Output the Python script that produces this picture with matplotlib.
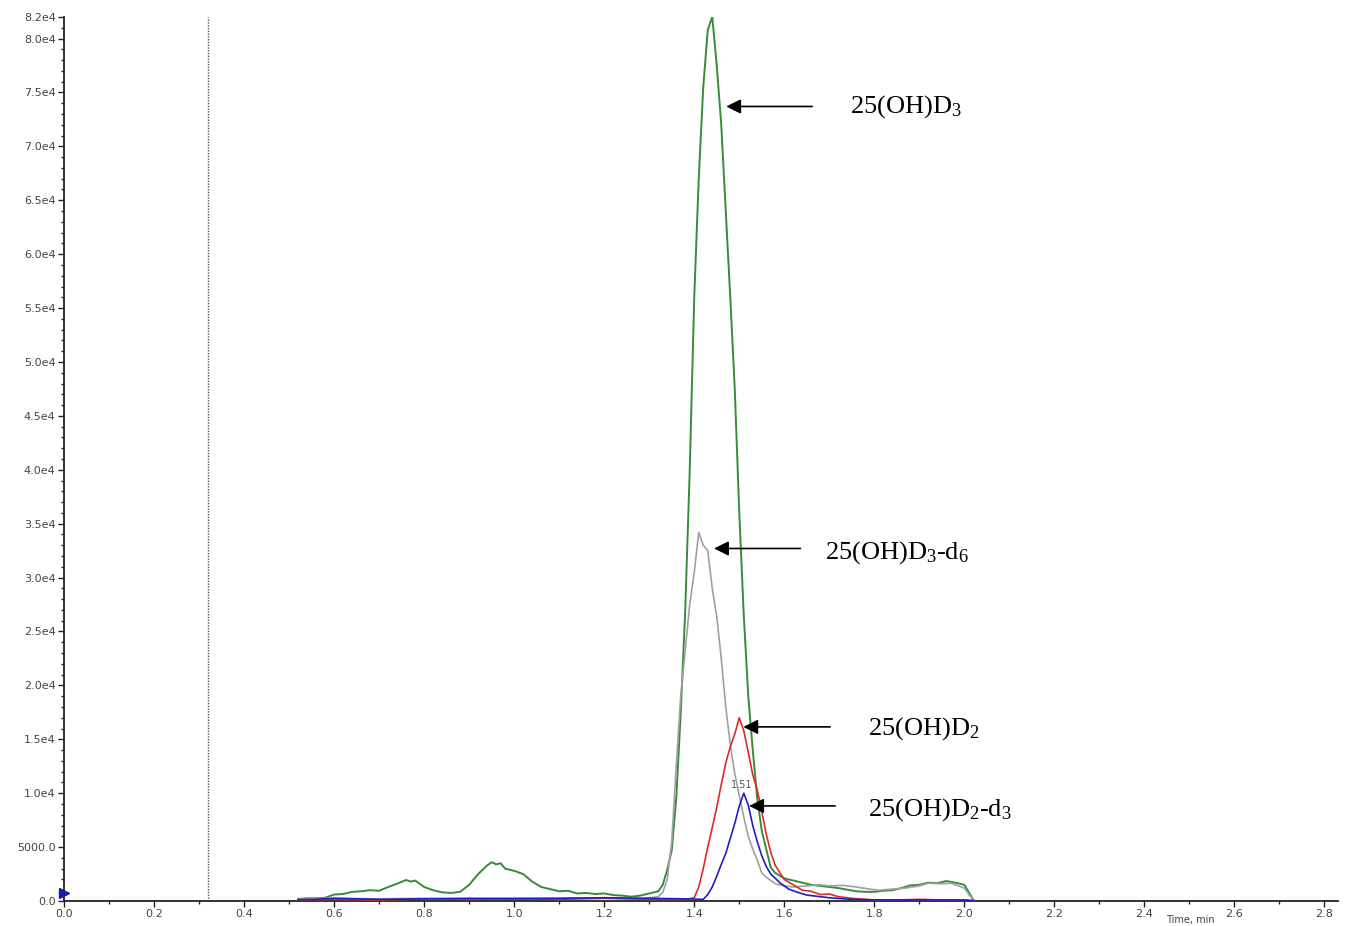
import matplotlib
matplotlib.use("Agg")
import matplotlib.pyplot as plt
from matplotlib.ticker import MultipleLocator, FixedLocator

plt.rcParams['mathtext.fontset'] = 'custom'
plt.rcParams['mathtext.rm'] = 'Liberation Serif'
plt.rcParams['mathtext.it'] = 'Liberation Serif:italic'
plt.rcParams['mathtext.default'] = 'regular'

# ---- data (time in min, intensity in cps) ----
green_t = [0.52, 0.54, 0.56, 0.58, 0.60, 0.62, 0.64, 0.66, 0.68, 0.70, 0.72, 0.74, 0.76, 0.77, 0.78,
           0.80, 0.82, 0.84, 0.86, 0.88, 0.90, 0.92, 0.94, 0.95, 0.96, 0.97, 0.98, 1.00, 1.02, 1.04,
           1.06, 1.08, 1.10, 1.12, 1.14, 1.16, 1.18, 1.20, 1.22, 1.24, 1.26, 1.28, 1.30, 1.32, 1.33,
           1.34, 1.35, 1.36, 1.37, 1.38, 1.39, 1.40, 1.41, 1.42, 1.43, 1.44, 1.45, 1.46, 1.47, 1.48,
           1.49, 1.50, 1.51, 1.52, 1.53, 1.54, 1.55, 1.56, 1.57, 1.58, 1.60, 1.62, 1.64, 1.66, 1.68,
           1.70, 1.72, 1.74, 1.76, 1.78, 1.80, 1.82, 1.84, 1.86, 1.88, 1.90, 1.92, 1.94, 1.96, 1.98,
           2.00, 2.01, 2.02]
green_y = [200, 250, 250, 300, 600, 650, 850, 900, 1000, 950, 1300, 1600, 1950, 1800, 1900,
           1300, 1000, 800, 750, 850, 1500, 2500, 3300, 3600, 3400, 3500, 3000, 2800, 2500, 1800,
           1300, 1100, 900, 950, 700, 750, 650, 700, 550, 500, 400, 500, 700, 900, 1500,
           2900, 4700, 9500, 17500, 27000, 40000, 56000, 67000, 75500, 80800, 82000, 77500, 72000, 64000, 56000,
           47500, 36000, 26500, 19000, 14000, 9500, 6500, 4800, 3100, 2600, 2100, 1900, 1700, 1500, 1400,
           1300, 1200, 1050, 900, 850, 850, 950, 1000, 1200, 1450, 1500, 1700, 1650, 1850, 1700,
           1500, 800, 100]

gray_t = [0.52, 0.60, 0.70, 0.80, 0.90, 1.00, 1.10, 1.20, 1.28, 1.32, 1.33, 1.34, 1.35, 1.36, 1.37,
          1.38, 1.39, 1.40, 1.41, 1.42, 1.43, 1.44, 1.45, 1.46, 1.47, 1.48, 1.49, 1.50, 1.51, 1.52,
          1.53, 1.54, 1.55, 1.56, 1.58, 1.60, 1.62, 1.65, 1.68, 1.70, 1.73, 1.76, 1.79, 1.81, 1.84,
          1.87, 1.90, 1.92, 1.95, 1.97, 2.00, 2.01, 2.02]
gray_y = [150, 250, 200, 250, 200, 300, 250, 300, 200, 400, 800, 2000, 5500, 12500, 19000,
          23300, 27500, 30500, 34200, 33000, 32500, 29000, 26400, 22500, 18000, 14500, 11800, 9800, 7800, 6000,
          4800, 3800, 2600, 2200, 1600, 1400, 1300, 1400, 1500, 1400, 1450, 1300, 1100, 1000, 1100,
          1200, 1400, 1650, 1600, 1650, 1200, 600, 100]

red_t = [0.52, 0.60, 0.70, 0.80, 0.90, 1.00, 1.10, 1.20, 1.30, 1.38, 1.40, 1.41, 1.42, 1.43, 1.44,
         1.45, 1.46, 1.47, 1.48, 1.49, 1.50, 1.51, 1.52, 1.53, 1.54, 1.55, 1.56, 1.57, 1.58, 1.60,
         1.62, 1.64, 1.66, 1.68, 1.70, 1.72, 1.75, 1.80, 1.85, 1.90, 1.95, 2.00, 2.02]
red_y = [100, 150, 100, 200, 150, 200, 150, 250, 150, 150, 300, 1300, 3000, 5000, 6800,
         8700, 10800, 12800, 14300, 15500, 17000, 15800, 13800, 11700, 10300, 8300, 6200, 4500, 3300, 2000,
         1500, 1000, 900, 600, 650, 400, 250, 100, 100, 150, 100, 50, 0]

blue_t = [0.52, 0.56, 0.60, 0.65, 0.70, 0.80, 0.90, 1.00, 1.10, 1.20, 1.30, 1.38, 1.42, 1.43, 1.44,
          1.45, 1.46, 1.47, 1.48, 1.49, 1.50, 1.51, 1.52, 1.53, 1.54, 1.55, 1.56, 1.57, 1.59, 1.61,
          1.63, 1.65, 1.70, 1.75, 1.80, 1.90, 2.00, 2.02]
blue_y = [100, 150, 250, 200, 150, 200, 250, 200, 250, 300, 250, 200, 150, 600, 1300,
          2300, 3400, 4400, 5800, 7200, 8800, 10000, 8900, 7000, 5500, 4200, 3200, 2500, 1700, 1100,
          800, 550, 300, 150, 100, 100, 100, 50]

y_ticks = [0, 5000, 10000, 15000, 20000, 25000, 30000, 35000, 40000, 45000, 50000,
           55000, 60000, 65000, 70000, 75000, 80000, 82000]
y_labels = ['0.0', '5000.0', '1.0e4', '1.5e4', '2.0e4', '2.5e4', '3.0e4', '3.5e4', '4.0e4', '4.5e4',
            '5.0e4', '5.5e4', '6.0e4', '6.5e4', '7.0e4', '7.5e4', '8.0e4', '8.2e4']
x_ticks = [0.0, 0.2, 0.4, 0.6, 0.8, 1.0, 1.2, 1.4, 1.6, 1.8, 2.0, 2.2, 2.4, 2.6, 2.8]

labels = ['25(OH)D$_{3}$', '25(OH)D$_{3}$-d$_{6}$', '25(OH)D$_{2}$', '25(OH)D$_{2}$-d$_{3}$']
# (tip x, tip y, tail x, text x, text y)
ann = [(1.471, 73700, 1.662, 1.747, 73700),
       (1.444, 32700, 1.636, 1.691, 32300),
       (1.509, 16150, 1.702, 1.787, 15960),
       (1.522, 8820, 1.713, 1.787, 8450)]

fig = plt.figure(figsize=(13.46, 9.26), dpi=100)
ax = fig.add_axes([64 / 1346, 25 / 926, (1338 - 64) / 1346, (901 - 17) / 926])

ax.plot(green_t, green_y, color='#3a8a3a', lw=1.4, zorder=3)
ax.plot(gray_t, gray_y, color='#a0a0a0', lw=1.2, zorder=4)
ax.plot(red_t, red_y, color='#e02a2a', lw=1.2, zorder=5)
ax.plot(blue_t, blue_y, color='#1e1ec8', lw=1.2, zorder=6)

ax.axvline(0.32, color='#555555', lw=1.0, ls=(0, (1, 1)), zorder=2)

ax.set_xlim(0, 2.83)
ax.set_ylim(0, 82000)
ax.spines['top'].set_visible(False)
ax.spines['right'].set_visible(False)
for s in ('left', 'bottom'):
    ax.spines[s].set_linewidth(1.3)
    ax.spines[s].set_color('#222222')

ax.yaxis.set_major_locator(FixedLocator(y_ticks))
ax.set_yticklabels(y_labels)
ax.yaxis.set_minor_locator(MultipleLocator(1000))
ax.xaxis.set_major_locator(FixedLocator(x_ticks))
ax.set_xticklabels([f'{v:.1f}' for v in x_ticks])
ax.xaxis.set_minor_locator(MultipleLocator(0.1))
ax.tick_params(axis='both', which='major', labelsize=8, labelcolor='#444444', color='#222222',
               length=4, width=1, direction='out', pad=2)
ax.tick_params(axis='both', which='minor', length=2, width=1, color='#222222', direction='out')

# blue marker at origin
ax.plot([0], [700], marker='>', color='#1a1aaa', markersize=7, clip_on=False, zorder=7)

ax.text(1.505, 10300, '1.51', fontsize=7, color='#555555', ha='center', va='bottom', zorder=8)

for lab, (tx, ty, sx, lx, ly) in zip(labels, ann):
    ax.annotate('', xy=(tx, ty), xytext=(sx, ty),
                arrowprops=dict(arrowstyle='-|>', color='black', lw=1.2, mutation_scale=22,
                                shrinkA=0, shrinkB=0), zorder=9)
    ax.text(lx, ly, lab, fontsize=19, family='Liberation Serif', ha='left', va='center', zorder=9)

# x-axis title, small, at the bottom edge as in the reference
fig.text(1190 / 1346, 1 / 926, 'Time, min', fontsize=7, color='#444444', ha='center', va='bottom')

fig.savefig('out.png', dpi=100, facecolor='white')
